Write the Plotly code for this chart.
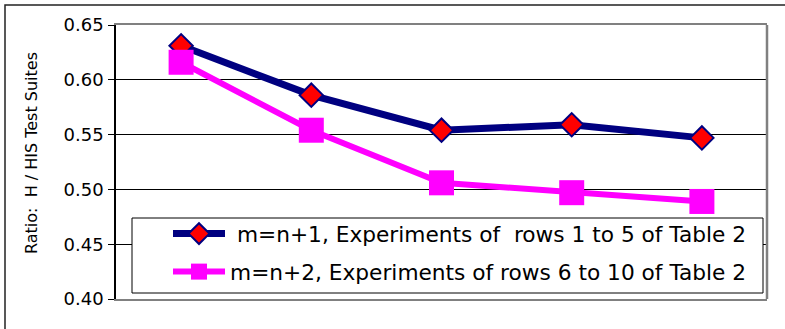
import plotly.graph_objects as go

categories = ["1", "2", "3", "4", "5"]
series1_name = "\u00a0m=n+1, Experiments of  rows 1 to 5 of Table 2"
series1_values = [0.631, 0.586, 0.554, 0.559, 0.547]
series2_name = "m=n+2, Experiments of rows 6 to 10 of Table 2"
series2_values = [0.616, 0.554, 0.506, 0.497, 0.489]
y_ticks = [0.40, 0.45, 0.50, 0.55, 0.60, 0.65]
y_title = "Ratio:\u00a0 H / HIS Test Suites"

W, H = 785, 329
ML, MR, MT, MB = 116, 18, 25, 30
PW, PH = W - ML - MR, H - MT - MB

def px_x(p):
    return (p - ML) / PW

def px_y(p):
    return (H - MB - p) / PH

FONT = "DejaVu Sans"

fig = go.Figure()
fig.add_trace(go.Scatter(
    x=categories, y=series1_values, name=series1_name, mode="lines+markers",
    line=dict(color="#000080", width=7),
    marker=dict(symbol="diamond", size=18, color="#FF0000",
                line=dict(color="#000080", width=2)),
    legend="legend",
))
fig.add_trace(go.Scatter(
    x=categories, y=series2_values, name=series2_name, mode="lines+markers",
    line=dict(color="#FF00FF", width=6),
    marker=dict(symbol="square", size=25, color="#FF00FF", line=dict(width=0)),
    legend="legend2",
))

shapes = [
    # outer chart border
    dict(type="rect", xref="paper", yref="paper",
         x0=px_x(5), x1=px_x(800), y0=px_y(345), y1=px_y(5),
         line=dict(color="#222222", width=1.5), fillcolor="rgba(0,0,0,0)", layer="below"),
    # right plot border
    dict(type="line", xref="paper", yref="paper", x0=1, x1=1, y0=0, y1=1,
         line=dict(color="#808080", width=2.5), layer="above"),
    # legend box
    dict(type="rect", xref="paper", yref="paper",
         x0=px_x(132), x1=px_x(763), y0=px_y(293), y1=px_y(218),
         line=dict(color="#000000", width=1), fillcolor="#FFFFFF", layer="above"),
]

legend_common = dict(
    bgcolor="rgba(0,0,0,0)", borderwidth=0,
    font=dict(family=FONT, size=21.7, color="#000000"),
    xanchor="left", yanchor="middle", itemwidth=52,
)

fig.update_layout(
    width=W, height=H,
    margin=dict(l=ML, r=MR, t=MT, b=MB, pad=0),
    paper_bgcolor="#FFFFFF", plot_bgcolor="#FFFFFF",
    font=dict(family=FONT, color="#000000"),
    showlegend=True,
    legend=dict(x=px_x(168), y=px_y(234), **legend_common),
    legend2=dict(x=px_x(168), y=px_y(272), **legend_common),
    xaxis=dict(
        type="category", range=[-0.5, 4.5], showticklabels=False, ticks="",
        showgrid=False, zeroline=False, showline=True, linecolor="#808080",
        linewidth=2, mirror=True,
    ),
    yaxis=dict(
        range=[0.40, 0.65], tickvals=y_ticks, tickformat=".2f",
        ticks="outside", ticklen=6, tickcolor="#000000", tickwidth=1,
        showgrid=True, gridcolor="#000000", gridwidth=1, zeroline=False,
        showline=True, linecolor="#000000", linewidth=1.5,
        tickfont=dict(family=FONT, size=18, color="#000000"),
        ticklabelstandoff=1,
    ),
    shapes=shapes,
    annotations=[dict(
        text=y_title, xref="paper", yref="paper", x=px_x(31), y=px_y(153),
        xanchor="center", yanchor="middle", textangle=-90, showarrow=False,
        font=dict(family=FONT, size=16, color="#000000"),
    )],
)

fig.write_html(
    "out.html",
    config={"displayModeBar": False},
    post_script="document.body.style.margin='0';document.body.style.overflow='hidden';",
)
